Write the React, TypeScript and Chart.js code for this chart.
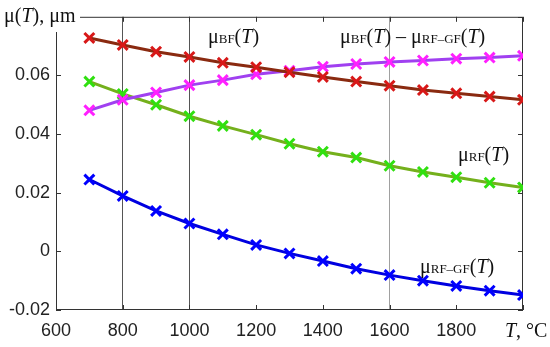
import React, { useEffect, useRef } from 'react';
import { Chart, registerables } from 'chart.js';
Chart.register(...registerables);

const temperatures = [700, 800, 900, 1000, 1100, 1200, 1300, 1400, 1500, 1600, 1700, 1800, 1900, 2000];
const muBF = [0.0728, 0.0704, 0.0681, 0.0663, 0.0643, 0.0628, 0.0611, 0.0595, 0.0579, 0.0565, 0.055, 0.0539, 0.0528, 0.0517];
const muBFminusRFGF = [0.0481, 0.0517, 0.0542, 0.0567, 0.0584, 0.0604, 0.0616, 0.063, 0.0639, 0.0646, 0.0651, 0.0657, 0.0661, 0.0667];
const muRF = [0.0579, 0.0537, 0.05, 0.0461, 0.0428, 0.0398, 0.0367, 0.034, 0.032, 0.0292, 0.0271, 0.0253, 0.0234, 0.0218];
const muRFGF = [0.0245, 0.0189, 0.0138, 0.0095, 0.0058, 0.0022, -0.0007, -0.0033, -0.0059, -0.0081, -0.01, -0.0118, -0.0134, -0.0149];
const xTicks = [600, 800, 1000, 1200, 1400, 1600, 1800, 2000];
const yTicks = [-0.02, 0, 0.02, 0.04, 0.06, 0.08];
const darkGridTemps = [800, 1000];
const lightGridTemps = [1600];

const SERIF = '"Liberation Serif", "DejaVu Serif", serif';
const SANS = '"Liberation Sans", Arial, sans-serif';

type Seg = { t: string; f: string };
const main = (t: string): Seg => ({ t, f: `20px ${SERIF}` });
const ital = (t: string): Seg => ({ t, f: `italic 20px ${SERIF}` });
const sub = (t: string): Seg => ({ t, f: `13px ${SERIF}` });

function drawRich(ctx: CanvasRenderingContext2D, segs: Seg[], x: number, y: number) {
  let cx = x;
  ctx.textBaseline = 'alphabetic';
  ctx.textAlign = 'left';
  for (const s of segs) {
    ctx.font = s.f;
    ctx.fillText(s.t, cx, y);
    cx += ctx.measureText(s.t).width;
  }
}

const pts = (ys: number[]) => temperatures.map((x, i) => ({ x, y: ys[i] }));

const framePlugin = {
  id: 'frame',
  beforeDatasetsDraw(chart: any) {
    const { ctx, chartArea: a, scales } = chart;
    ctx.save();
    ctx.strokeStyle = '#333';
    ctx.lineWidth = 1;
    ctx.strokeRect(a.left + 0.5, a.top + 0.5, a.right - a.left - 1, a.bottom - a.top - 1);
    ctx.beginPath();
    for (const v of xTicks) {
      const px = Math.round(scales.x.getPixelForValue(v)) + 0.5;
      ctx.moveTo(px, a.bottom); ctx.lineTo(px, a.bottom - 5);
      ctx.moveTo(px, a.top); ctx.lineTo(px, a.top + 5);
    }
    for (const v of yTicks) {
      const py = Math.round(scales.y.getPixelForValue(v)) + 0.5;
      ctx.moveTo(a.left, py); ctx.lineTo(a.left + 5, py);
      ctx.moveTo(a.right, py); ctx.lineTo(a.right - 5, py);
    }
    ctx.stroke();
    ctx.restore();
  },
  afterDraw(chart: any) {
    const { ctx } = chart;
    ctx.save();
    ctx.fillStyle = '#fff';
    ctx.fillRect(0, 0, 80, 32);
    ctx.fillStyle = '#111';
    drawRich(ctx, [main('μ('), ital('T'), main('), μm')], 4, 22);
    drawRich(ctx, [ital('T'), main(', °C')], 505, 337);
    drawRich(ctx, [main('μ'), sub('BF'), main('('), ital('T'), main(')')], 208, 43);
    drawRich(ctx, [main('μ'), sub('BF'), main('('), ital('T'), main(') – μ'), sub('RF–GF'), main('('), ital('T'), main(')')], 340, 43);
    drawRich(ctx, [main('μ'), sub('RF'), main('('), ital('T'), main(')')], 458, 161);
    drawRich(ctx, [main('μ'), sub('RF–GF'), main('('), ital('T'), main(')')], 420, 273);
    ctx.restore();
  },
};

function ds(label: string, ys: number[], line: string, mark: string) {
  return {
    label,
    data: pts(ys),
    borderColor: line,
    backgroundColor: mark,
    borderWidth: 3,
    pointStyle: 'crossRot',
    pointRadius: 7,
    pointBorderColor: mark,
    pointBorderWidth: 3,
    tension: 0,
  };
}

export default function App() {
  const ref = useRef<HTMLCanvasElement>(null);
  useEffect(() => {
    const chart = new Chart(ref.current!, {
      type: 'line',
      data: {
        datasets: [
          ds('μBF(T)', muBF, '#8a2a10', '#d81818'),
          ds('μBF(T) − μRF−GF(T)', muBFminusRFGF, '#a040f0', '#ff20ff'),
          ds('μRF(T)', muRF, '#74b01c', '#30e010'),
          ds('μRF−GF(T)', muRFGF, '#0000e0', '#0000ff'),
        ] as any,
      },
      options: {
        animation: false,
        responsive: false,
        devicePixelRatio: 1,
        layout: { padding: { top: 12, right: 27, left: 0, bottom: 0 } },
        plugins: { legend: { display: false }, tooltip: { enabled: false } },
        scales: {
          x: {
            type: 'linear',
            min: 600,
            max: 2000,
            afterBuildTicks: (s: any) => { s.ticks = xTicks.map((v) => ({ value: v })); },
            afterFit: (s: any) => { s.height = 37; },
            border: { display: false },
            grid: {
              drawTicks: false,
              lineWidth: 1,
              color: (c: any) => {
                const v = c.tick?.value;
                if (darkGridTemps.includes(v)) return '#555';
                if (lightGridTemps.includes(v)) return '#a0a0a0';
                return 'rgba(0,0,0,0)';
              },
            },
            ticks: {
              padding: 10,
              color: '#222',
              font: { family: SANS, size: 18 },
              maxRotation: 0,
              callback: (v: any) => (v === 2000 ? '' : String(v)),
            },
          },
          y: {
            type: 'linear',
            min: -0.02,
            max: 0.08,
            afterBuildTicks: (s: any) => { s.ticks = yTicks.map((v) => ({ value: v })); },
            afterFit: (s: any) => { s.width = 56; },
            border: { display: false },
            grid: { display: false, drawTicks: false },
            ticks: {
              padding: 6,
              color: '#222',
              font: { family: SANS, size: 18 },
              callback: (v: any) => {
                const n = Number(v);
                if (Math.abs(n - 0.08) < 1e-9) return '';
                if (Math.abs(n) < 1e-9) return '0';
                return n.toFixed(2);
              },
            },
          },
        },
      },
      plugins: [framePlugin],
    });
    return () => chart.destroy();
  }, []);
  return (
    <div style={{ position: 'absolute', left: 0, top: 0, width: 550, height: 347 }}>
      <canvas ref={ref} width={550} height={347} style={{ width: 550, height: 347 }} />
    </div>
  );
}
